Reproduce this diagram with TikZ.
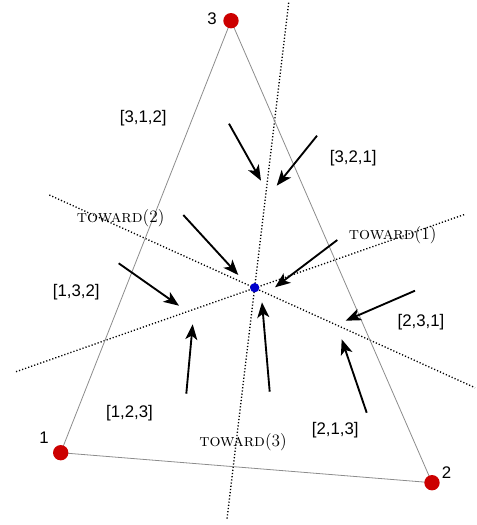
\documentclass[tikz,border=0pt]{standalone}
\usepackage{fontspec}
\newfontfamily\lblfont{Liberation Sans}
\usetikzlibrary{arrows.meta}
\definecolor{vred}{RGB}{204,0,0}
\definecolor{cblue}{RGB}{0,0,204}
\begin{document}
\begin{tikzpicture}[x=0.75pt,y=-0.75pt,
  side/.style={draw=black!45,line width=0.6pt},
  sep/.style={draw=black,line width=1pt,dash pattern=on 0.9pt off 1.5pt},
  flow/.style={draw=black,line width=1.4pt,-{Stealth[length=11.5pt,width=9pt,inset=3pt]}},
  vtx/.style={circle,fill=vred,inner sep=0pt,minimum size=11.5pt},
  ctr/.style={circle,fill=cblue,inner sep=0pt,minimum size=7pt},
  perm/.style={font=\lblfont\fontsize{12.6}{14}\selectfont,inner sep=0pt},
  tw/.style={font=\fontsize{13}{15}\selectfont,inner sep=0pt}]
\useasboundingbox (0,0) rectangle (476,525);
% separating lines
\coordinate (a1) at (288.7,2.7);
\coordinate (a2) at (227,519);
\coordinate (b1) at (49.3,195);
\coordinate (b2) at (475,387.7);
\coordinate (c1) at (16,371.7);
\coordinate (c2) at (465,214.3);
\draw[sep] (a1) -- (a2);
\draw[sep] (b1) -- (b2);
\draw[sep] (c1) -- (c2);
% triangle
\coordinate (p1) at (60.7,452.7);
\coordinate (p2) at (432,482.7);
\coordinate (p3) at (231,20.7);
\draw[side] (p1) -- (p2) -- (p3) -- cycle;
\node[vtx] (v1) at (p1) {};
\node[vtx] (v2) at (p2) {};
\node[vtx] (v3) at (p3) {};
\node[ctr] (c) at (254.7,287.7) {};
\node[perm] (l1) at (44,438) {1};
\node[perm] (l2) at (446.5,473) {2};
\node[perm] (l3) at (212,18.5) {3};
% region labels
\node[perm] (r312) at (143.3,118.3) {[3,1,2]};
\node[perm] (r321) at (353.3,157.7) {[3,2,1]};
\node[perm] (r132) at (76.3,291.7) {[1,3,2]};
\node[perm] (r231) at (421,321.7) {[2,3,1]};
\node[perm] (r123) at (129.5,413.5) {[1,2,3]};
\node[perm] (r213) at (335.3,430) {[2,1,3]};
\node[tw] (t2) at (120.7,218.3) {\textsc{toward}(2)};
\node[tw] (t1) at (392.7,235) {\textsc{toward}(1)};
\node[tw] (t3) at (243,442) {\textsc{toward}(3)};
% flow arrows
\coordinate (s1) at (229,123.7);   \coordinate (e1) at (261,180.7);
\coordinate (s2) at (317,135.7);   \coordinate (e2) at (276.7,185.7);
\coordinate (s3) at (183.3,215);   \coordinate (e3) at (238.3,275);
\coordinate (s4) at (337.3,240);   \coordinate (e4) at (275,287.3);
\coordinate (s5) at (118.7,263.3); \coordinate (e5) at (179,305.7);
\coordinate (s6) at (415,290.7);   \coordinate (e6) at (345.7,320.7);
\coordinate (s7) at (186.3,393.7); \coordinate (e7) at (192.7,324.3);
\coordinate (s8) at (269.7,391.7); \coordinate (e8) at (262,302.3);
\coordinate (s9) at (366.7,412.7); \coordinate (e9) at (341.7,339.3);
\foreach \i in {1,...,9} {\draw[flow] (s\i) -- (e\i);}
\end{tikzpicture}
\end{document}
